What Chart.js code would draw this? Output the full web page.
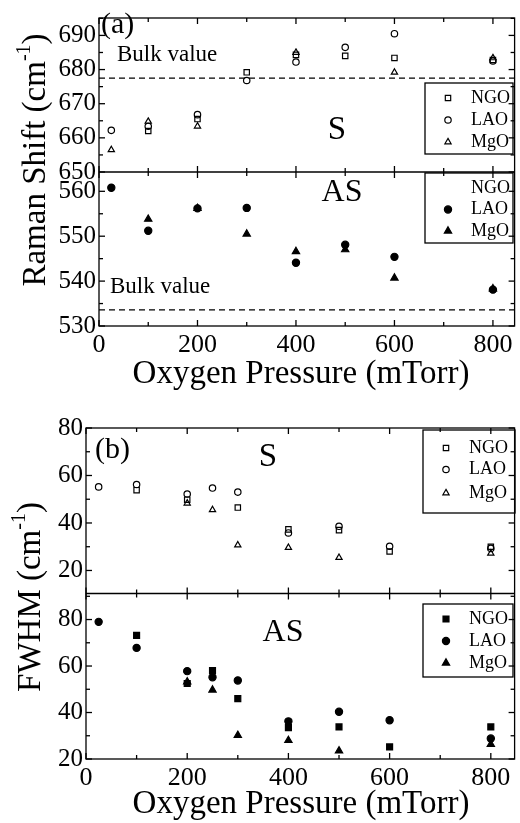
<!DOCTYPE html>
<html>
<head>
<meta charset="utf-8">
<script src="https://cdn.jsdelivr.net/npm/chart.js@4.4.0/dist/chart.umd.min.js"></script>
<style>
  body { margin: 0; background: #fff; }
  canvas { display: block; }
</style>
</head>
<body>
<canvas id="chartA" width="520" height="410"></canvas>
<canvas id="chartB" width="520" height="413"></canvas>
<script>
// oxygen pressure during growth (mTorr)
var pressureA = [25, 100, 200, 300, 400, 500, 600, 800];
var pressureB = [25, 100, 200, 250, 300, 400, 500, 600, 800];

// (a) Raman shift of the S mode (cm-1), one list per substrate
var shiftS_NGO = [null, 662.0, 665.5, 679.2, 684.3, 684.0, 683.4, 682.8];
var shiftS_LAO = [662.2, 663.4, 666.8, 676.8, 682.2, 686.5, 690.5, 682.5];
var shiftS_MgO = [656.5, 664.8, 663.4, null, 685.0, null, 679.2, 683.4];
// (a) Raman shift of the AS mode
var shiftAS_LAO = [560.8, 551.2, 556.2, 556.3, 544.1, 548.1, 545.4, 538.1];
var shiftAS_MgO = [null, 553.8, 556.2, 550.5, 546.6, 547.0, 540.7, 538.3];
var bulkS = 677.5;
var bulkAS = 533.6;

// (b) FWHM of the S mode (cm-1)
var fwhmS_NGO = [null, 53.8, 49.8, null, 46.5, 37.3, 37.0, 28.0, 30.0];
var fwhmS_LAO = [55.2, 56.2, 52.2, 54.7, 53.0, 35.8, 38.6, 30.2, 29.3];
var fwhmS_MgO = [null, null, 48.3, 45.5, 30.7, 29.6, 25.4, null, 27.2];
// (b) FWHM of the AS mode
var fwhmAS_NGO = [null, 73.2, 52.5, 58.0, 46.0, 33.5, 33.8, 25.2, 33.8];
var fwhmAS_LAO = [79.0, 67.8, 57.8, 55.2, 53.8, 36.2, 40.3, 36.7, 28.8];
var fwhmAS_MgO = [null, null, 53.2, 49.7, 30.2, 28.0, 23.5, null, 26.3];

// tick labels
var xTicks = [0, 200, 400, 600, 800];
var yTicksShiftS = [650, 660, 670, 680, 690];
var yTicksShiftAS = [530, 540, 550, 560];
var yTicksFwhm = [20, 40, 60, 80];
var substrates = ['NGO', 'LAO', 'MgO'];

var serif = '"Liberation Serif", "Times New Roman", serif';

function pts(xs, ys) {
  var out = [];
  for (var i = 0; i < xs.length; i++) {
    if (ys[i] !== null) out.push({x: xs[i], y: ys[i]});
  }
  return out;
}

function series(label, xs, ys, axis, style, filled, r) {
  return {
    label: label,
    data: pts(xs, ys),
    yAxisID: axis,
    pointStyle: style,
    pointRadius: r,
    pointHoverRadius: r,
    pointBorderWidth: 1.2,
    borderColor: '#000',
    pointBorderColor: '#000',
    backgroundColor: filled ? '#000' : 'rgba(0,0,0,0)',
    pointBackgroundColor: filled ? '#000' : 'rgba(0,0,0,0)',
    showLine: false
  };
}

function fixTicks(list) {
  return function(scale) {
    scale.ticks = list.map(function(v) { return {value: v}; });
  };
}

function line(ctx, x1, y1, x2, y2) {
  ctx.beginPath();
  ctx.moveTo(x1, y1);
  ctx.lineTo(x2, y2);
  ctx.stroke();
}

// frame, inner ticks, divider, dashed bulk lines, labels and boxed legends
var panelDecor = {
  id: 'panelDecor',
  afterDraw: function(chart, args, o) {
    var ctx = chart.ctx, area = chart.chartArea, x = chart.scales.x;
    var top = chart.scales[o.topAxis], bot = chart.scales[o.bottomAxis];
    var mid = top.bottom;
    ctx.save();
    ctx.strokeStyle = '#000';
    ctx.fillStyle = '#000';
    ctx.lineWidth = 1.3;
    ctx.strokeRect(area.left, area.top, area.right - area.left, area.bottom - area.top);
    line(ctx, area.left, mid, area.right, mid);

    for (var v = 0; v <= x.max; v += 100) {
      var px = x.getPixelForValue(v);
      var len = v % 200 === 0 ? 6 : 4;
      line(ctx, px, area.bottom, px, area.bottom - len);
      line(ctx, px, area.top, px, area.top + len);
      line(ctx, px, mid - len, px, mid + len);
    }
    [top, bot].forEach(function(s, k) {
      var step = o.yMinor[k];
      for (var v = Math.ceil(s.min / step) * step; v <= s.max; v += step) {
        var py = s.getPixelForValue(v);
        var len = v % o.yMajor[k] === 0 ? 6 : 4;
        line(ctx, area.left, py, area.left + len, py);
        line(ctx, area.right, py, area.right - len, py);
      }
    });

    (o.bulk || []).forEach(function(b) {
      var py = chart.scales[b.axis].getPixelForValue(b.value);
      ctx.save();
      ctx.lineWidth = 1.2;
      ctx.setLineDash([6, 4]);
      line(ctx, area.left, py, area.right, py);
      ctx.restore();
    });

    ctx.textBaseline = 'middle';
    o.texts.forEach(function(t) {
      ctx.font = t.size + 'px ' + serif;
      ctx.textAlign = t.align || 'center';
      ctx.fillText(t.text, t.x, t.y);
    });

    o.legends.forEach(function(lg) {
      ctx.lineWidth = 1.3;
      ctx.strokeRect(lg.x, lg.y, lg.w, lg.h);
      ctx.font = '18px ' + serif;
      ctx.textAlign = 'left';
      substrates.forEach(function(name, i) {
        var ry = lg.rows[i];
        ctx.fillStyle = '#000';
        ctx.fillText(name, lg.x + 46, ry);
        var ds = chart.data.datasets.filter(function(d) {
          return d.label === name && d.yAxisID === lg.axis;
        })[0];
        if (ds) {
          ctx.fillStyle = ds.pointBackgroundColor;
          ctx.strokeStyle = '#000';
          ctx.lineWidth = ds.pointBorderWidth;
          Chart.helpers.drawPoint(ctx, {
            pointStyle: ds.pointStyle, radius: ds.pointRadius,
            rotation: 0, borderWidth: ds.pointBorderWidth
          }, lg.x + 23, ry);
        }
      });
    });

    // axis titles
    ctx.fillStyle = '#000';
    ctx.textAlign = 'center';
    ctx.textBaseline = 'alphabetic';
    ctx.font = '33px ' + serif;
    ctx.fillText('Oxygen Pressure (mTorr)', o.xTitle.x, o.xTitle.y);

    ctx.save();
    ctx.translate(o.yTitle.x, o.yTitle.y);
    ctx.rotate(-Math.PI / 2);
    var main = o.yTitle.text + ' (cm', sup = '-1', tail = ')';
    ctx.font = '33px ' + serif;
    var w1 = ctx.measureText(main).width, w3 = ctx.measureText(tail).width;
    ctx.font = '20px ' + serif;
    var w2 = ctx.measureText(sup).width;
    var x0 = -(w1 + w2 + w3) / 2;
    ctx.textAlign = 'left';
    ctx.font = '33px ' + serif;
    ctx.fillText(main, x0, 0);
    ctx.fillText(tail, x0 + w1 + w2, 0);
    ctx.font = '20px ' + serif;
    ctx.fillText(sup, x0 + w1, -15);
    ctx.restore();

    ctx.restore();
  }
};

function axisCommon(ticksList, extra) {
  var s = {
    grid: {display: false, drawTicks: false},
    border: {display: false},
    ticks: {color: '#000', font: {family: serif, size: 25}, padding: 3, autoSkip: false},
    afterBuildTicks: fixTicks(ticksList)
  };
  for (var k in extra) s[k] = extra[k];
  return s;
}

function xAxis(maxVal, height) {
  return {
    type: 'linear', position: 'bottom', min: 0, max: maxVal,
    grid: {display: false, drawTicks: false},
    border: {display: false},
    ticks: {color: '#000', font: {family: serif, size: 26}, padding: 4, maxRotation: 0, autoSkip: false},
    afterBuildTicks: fixTicks(xTicks),
    afterFit: function(s) { s.height = height; }
  };
}

function yWidth(w) {
  return function(s) { s.width = w; };
}

new Chart(document.getElementById('chartA'), {
  type: 'scatter',
  data: {
    datasets: [
      series('NGO', pressureA, shiftS_NGO, 'yS', 'rect', false, 3.8),
      series('LAO', pressureA, shiftS_LAO, 'yS', 'circle', false, 3.2),
      series('MgO', pressureA, shiftS_MgO, 'yS', 'triangle', false, 3.6),
      series('LAO', pressureA, shiftAS_LAO, 'yAS', 'circle', true, 3.6),
      series('MgO', pressureA, shiftAS_MgO, 'yAS', 'triangle', true, 4.2)
    ]
  },
  options: {
    responsive: false,
    animation: false,
    layout: {padding: {top: 7, right: 2, left: 0, bottom: 0}},
    plugins: {
      legend: {display: false},
      tooltip: {enabled: false},
      panelDecor: {
        topAxis: 'yS', bottomAxis: 'yAS',
        yMinor: [5, 5], yMajor: [10, 10],
        bulk: [{axis: 'yS', value: bulkS}, {axis: 'yAS', value: bulkAS}],
        texts: [
          {text: '(a)', x: 101, y: 25, size: 30, align: 'left'},
          {text: 'Bulk value', x: 117, y: 55, size: 23, align: 'left'},
          {text: 'S', x: 337, y: 130, size: 33},
          {text: 'AS', x: 342, y: 193, size: 32},
          {text: 'Bulk value', x: 110, y: 287, size: 23, align: 'left'}
        ],
        legends: [
          {axis: 'yS', x: 425, y: 83, w: 88, h: 71, rows: [98, 120, 142]},
          {axis: 'yAS', x: 425, y: 173, w: 88, h: 70, rows: [188, 209.5, 231]}
        ],
        xTitle: {x: 301, y: 383},
        yTitle: {text: 'Raman Shift', x: 45, y: 160}
      }
    },
    scales: {
      x: xAxis(844, 84),
      yAS: axisCommon(yTicksShiftAS, {type: 'linear', position: 'left', stack: 'a', stackWeight: 1, min: 530, max: 564.3, afterFit: yWidth(99)}),
      yS: axisCommon(yTicksShiftS, {type: 'linear', position: 'left', stack: 'a', stackWeight: 1, min: 650, max: 695.1, afterFit: yWidth(99)})
    }
  },
  plugins: [panelDecor]
});

new Chart(document.getElementById('chartB'), {
  type: 'scatter',
  data: {
    datasets: [
      series('NGO', pressureB, fwhmS_NGO, 'yS', 'rect', false, 3.8),
      series('LAO', pressureB, fwhmS_LAO, 'yS', 'circle', false, 3.2),
      series('MgO', pressureB, fwhmS_MgO, 'yS', 'triangle', false, 3.6),
      series('NGO', pressureB, fwhmAS_NGO, 'yAS', 'rect', true, 4.2),
      series('LAO', pressureB, fwhmAS_LAO, 'yAS', 'circle', true, 3.6),
      series('MgO', pressureB, fwhmAS_MgO, 'yAS', 'triangle', true, 4.2)
    ]
  },
  options: {
    responsive: false,
    animation: false,
    layout: {padding: {top: 18, right: 2, left: 0, bottom: 0}},
    plugins: {
      legend: {display: false},
      tooltip: {enabled: false},
      panelDecor: {
        topAxis: 'yS', bottomAxis: 'yAS',
        yMinor: [10, 10], yMajor: [20, 20],
        texts: [
          {text: '(b)', x: 95, y: 40, size: 30, align: 'left'},
          {text: 'S', x: 268, y: 47, size: 33},
          {text: 'AS', x: 283, y: 223, size: 32}
        ],
        legends: [
          {axis: 'yS', x: 423, y: 20, w: 92, h: 83, rows: [38, 59.5, 83]},
          {axis: 'yAS', x: 423, y: 194, w: 90, h: 73, rows: [209, 231, 253]}
        ],
        xTitle: {x: 301, y: 403},
        yTitle: {text: 'FWHM', x: 40, y: 187}
      }
    },
    scales: {
      x: xAxis(847, 64),
      yAS: axisCommon(yTicksFwhm, {type: 'linear', position: 'left', stack: 'b', stackWeight: 1, min: 20, max: 91.2, afterFit: yWidth(86)}),
      yS: axisCommon(yTicksFwhm, {type: 'linear', position: 'left', stack: 'b', stackWeight: 1, min: 10.3, max: 80, afterFit: yWidth(86)})
    }
  },
  plugins: [panelDecor]
});
</script>
</body>
</html>
